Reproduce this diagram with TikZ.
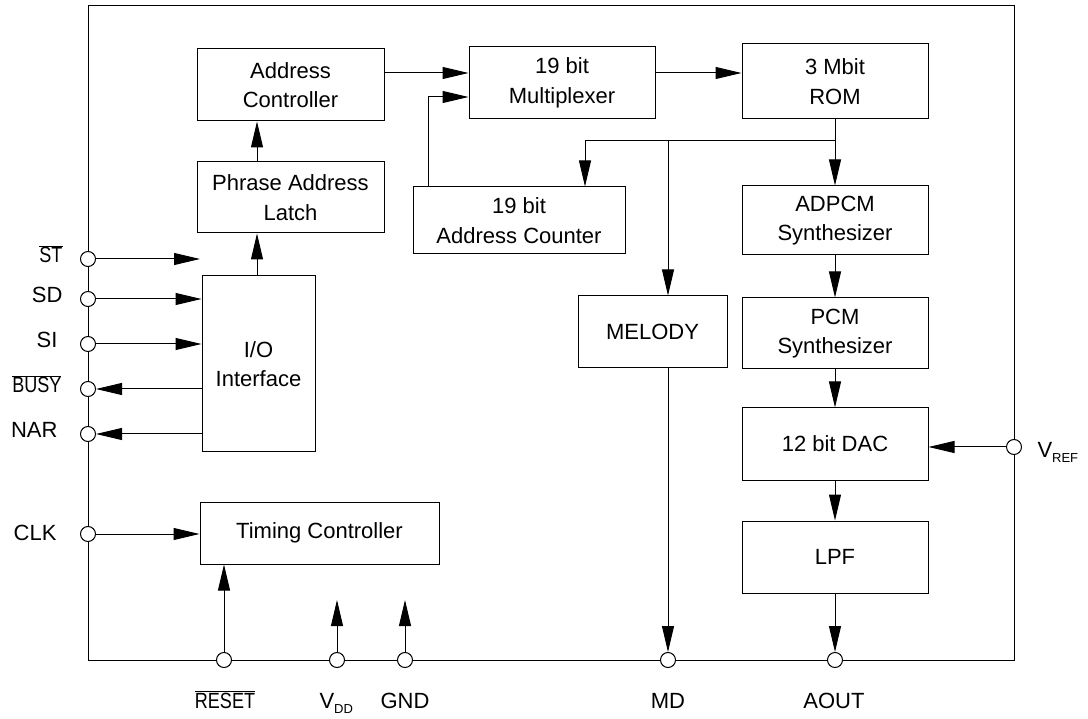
\documentclass[tikz,border=0pt]{standalone}
\usepackage{fontspec}
\setmainfont{Liberation Sans}
\newfontfamily\narrowfont{Liberation Sans}[FakeStretch=0.82]
\usetikzlibrary{arrows.meta}
\newcommand{\ovl}[1]{$\overline{\mbox{\narrowfont #1}}$}
\newcommand{\subtxt}[1]{\raisebox{-5pt}{\fontsize{13}{13}\selectfont #1}}
\begin{document}
\begin{tikzpicture}[x=1pt,y=-1pt,
  line width=1pt,
  every node/.style={font=\fontsize{22}{29.5}\selectfont, inner sep=0pt},
  box/.style={draw, rectangle, align=center},
  arr/.style={-{Triangle[length=26pt,width=12pt]}},
  pinc/.style={draw, circle, fill=white, minimum size=15pt},
  lbl/.style={anchor=base east},
  blbl/.style={anchor=base},
]
\useasboundingbox (0,0) rectangle (1088,719);
% frame
\draw (88,6) rectangle (1014,660);

% boxes
\node[box, minimum width=187pt, minimum height=72pt] (ac) at (290.5,85) {Address\\Controller};
\node[box, minimum width=187pt, minimum height=71pt] (pal) at (290.5,197.5) {Phrase Address\\Latch};
\node[box, minimum width=186pt, minimum height=72pt] (mux) at (562,83) {19 bit\\Multiplexer};
\node[box, minimum width=186pt, minimum height=75pt] (rom) at (835,81.5) {3 Mbit\\ROM};
\node[box, minimum width=212pt, minimum height=67pt] (cnt) at (519,220.5) {19 bit\\Address Counter};
\node[box, minimum width=186pt, minimum height=69pt] (adpcm) at (835,220.5) {ADPCM\\Synthesizer};
\node[box, minimum width=149pt, minimum height=72pt] (melody) at (652.5,332) {MELODY};
\node[box, minimum width=186pt, minimum height=71pt] (pcm) at (835,333.5) {PCM\\Synthesizer};
\node[box, minimum width=186pt, minimum height=72pt] (dac) at (835,444) {12 bit DAC};
\node[box, minimum width=186pt, minimum height=72pt] (lpf) at (835,557) {LPF};
\node[box, minimum width=113pt, minimum height=176pt] (io) at (258.5,364) {I/O\\Interface};
\node[box, minimum width=239pt, minimum height=62pt] (tc) at (319.5,533) {Timing Controller};

% pins
\node[pinc] (pst) at (88,259) {};
\node[pinc] (psd) at (88,299) {};
\node[pinc] (psi) at (88,344) {};
\node[pinc] (pbusy) at (88,389) {};
\node[pinc] (pnar) at (88,434) {};
\node[pinc] (pclk) at (88,534) {};
\node[pinc] (preset) at (224,660) {};
\node[pinc] (pvdd) at (337,660) {};
\node[pinc] (pgnd) at (405,660) {};
\node[pinc] (pmd) at (668,660) {};
\node[pinc] (paout) at (835,660) {};
\node[pinc] (pvref) at (1014,447) {};

% free ends and branch points
\coordinate (stend) at (200,259);
\coordinate (vddend) at (337,600);
\coordinate (gndend) at (405,600);
\coordinate (br) at (835,141);
\coordinate (bm) at (668,141);

% connectors
\draw[arr] (pst) -- (stend);
\draw[arr] (psd) -- (psd -| io.west);
\draw[arr] (psi) -- (psi -| io.west);
\draw[arr] (pbusy -| io.west) -- (pbusy);
\draw[arr] (pnar -| io.west) -- (pnar);
\draw[arr] (pclk) -- (pclk -| tc.west);
\draw[arr] (preset) -- (preset |- tc.south);
\draw[arr] (pvdd) -- (vddend);
\draw[arr] (pgnd) -- (gndend);
\draw[arr] (pvref) -- (pvref -| dac.east);
\draw[arr] (io.north -| 257,0) -- (pal.south -| 257,0);
\draw[arr] (pal.north -| 257,0) -- (ac.south -| 257,0);
\draw[arr] (ac.east |- 0,73) -- (mux.west |- 0,73);
\draw[arr] (mux.east |- 0,73) -- (rom.west |- 0,73);
\draw[arr] (cnt.north -| 428,0) |- (mux.west |- 0,97);
\draw[arr] (rom.south) -- (adpcm.north);
\draw[arr] (br) -| (cnt.north -| 585,0);
\draw[arr] (bm) -- (bm |- melody.north);
\draw[arr] (bm |- melody.south) -- (pmd);
\draw[arr] (adpcm) -- (pcm);
\draw[arr] (pcm) -- (dac);
\draw[arr] (dac) -- (lpf);
\draw[arr] (lpf) -- (paout);

% labels
\node[lbl] (lst) at (63,263) {\ovl{ST}};
\node[lbl] (lsd) at (63,303) {SD};
\node[lbl] (lsi) at (58,348) {SI};
\node[lbl] (lbusy) at (62,393) {\ovl{BUSY}};
\node[lbl] (lnar) at (58,438) {NAR};
\node[lbl] (lclk) at (57,540) {CLK};
\node[blbl] (lreset) at (225,708) {\ovl{RESET}};
\node[anchor=base west] (lvdd) at (319,708) {V\subtxt{DD}};
\node[blbl] (lgnd) at (405,708) {GND};
\node[blbl] (lmd) at (668,708) {MD};
\node[blbl] (laout) at (834,708) {AOUT};
\node[anchor=base west] (lvref) at (1037,457) {V\subtxt{REF}};
\end{tikzpicture}
\end{document}
